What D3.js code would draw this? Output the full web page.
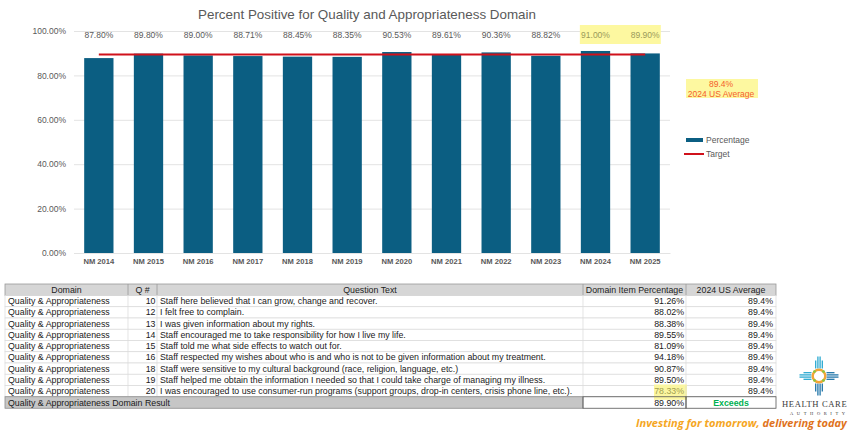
<!DOCTYPE html>
<html>
<head>
<meta charset="utf-8">
<script src="https://cdn.jsdelivr.net/npm/d3@7"></script>
<style>
  html, body { margin: 0; padding: 0; background: #ffffff; }
  svg { display: block; font-family: "Liberation Sans", Arial, sans-serif; }
</style>
</head>
<body>
<svg id="chart" width="849" height="432"></svg>
<script>
// ---------- DATA ----------
const years = ["NM 2014","NM 2015","NM 2016","NM 2017","NM 2018","NM 2019","NM 2020","NM 2021","NM 2022","NM 2023","NM 2024","NM 2025"];
const percentages = [87.80, 89.80, 89.00, 88.71, 88.45, 88.35, 90.53, 89.61, 90.36, 88.82, 91.00, 89.90];
const target = 89.4;
const yTicks = [0, 20, 40, 60, 80, 100];
const highlightedYears = ["NM 2024", "NM 2025"];

const tableHeaders = ["Domain", "Q #", "Question Text", "Domain Item Percentage", "2024 US Average"];
const domainNames = ["Quality & Appropriateness","Quality & Appropriateness","Quality & Appropriateness","Quality & Appropriateness","Quality & Appropriateness","Quality & Appropriateness","Quality & Appropriateness","Quality & Appropriateness","Quality & Appropriateness"];
const questionNums = [10, 12, 13, 14, 15, 16, 18, 19, 20];
const questionTexts = [
  "Staff here believed that I can grow, change and recover.",
  "I felt free to complain.",
  "I was given information about my rights.",
  "Staff encouraged me to take responsibility for how I live my life.",
  "Staff told me what side effects to watch out for.",
  "Staff respected my wishes about who is and who is not to be given information about my treatment.",
  "Staff were sensitive to my cultural background (race, religion, language, etc.)",
  "Staff helped me obtain the information I needed so that I could take charge of managing my illness.",
  "I was encouraged to use consumer-run programs (support groups, drop-in centers, crisis phone line, etc.)."
];
const itemPercentages = [91.26, 88.02, 88.38, 89.55, 81.09, 94.18, 90.87, 89.50, 78.33];
const usAverages = [89.4, 89.4, 89.4, 89.4, 89.4, 89.4, 89.4, 89.4, 89.4];
const highlightedItems = [20];
const resultLabel = "Quality & Appropriateness Domain Result";
const resultValue = 89.90;
const resultStatus = "Exceeds";

// ---------- CHART ----------
const svg = d3.select("#chart");
const grey = "#595959";
const barColor = "#0b5e82";
const redColor = "#d0111b";

const x = d3.scaleBand().domain(years).range([74, 670]).paddingInner(0.41).paddingOuter(0.205);
const y = d3.scaleLinear().domain([0, 100]).range([253, 31]);

// title
svg.append("text")
  .attr("x", 367).attr("y", 19)
  .attr("text-anchor", "middle")
  .attr("font-size", 13.4)
  .attr("fill", grey)
  .text("Percent Positive for Quality and Appropriateness Domain");

// gridlines + y axis
const yAxis = d3.axisLeft(y).tickValues(yTicks)
  .tickFormat(d => d3.format(".2f")(d) + "%")
  .tickSize(-(670 - 74)).tickPadding(8);
const gy = svg.append("g").attr("transform", "translate(74,0)").call(yAxis);
gy.select(".domain").remove();
gy.selectAll(".tick line").attr("stroke", "#e3e3e3").attr("stroke-width", 1);
gy.selectAll(".tick text").attr("fill", grey).attr("font-size", 8.5).attr("font-family", "Liberation Sans, Arial, sans-serif");

// value label highlight block
const hlBands = highlightedYears.map(v => x(v));
const hlX0 = d3.min(hlBands) - 1;
const hlX1 = d3.max(hlBands) + x.bandwidth() + 1;
svg.append("rect")
  .attr("x", hlX0).attr("y", 25)
  .attr("width", hlX1 - hlX0).attr("height", 19)
  .attr("fill", "#fdf8a0");

// bars
svg.append("g").selectAll("rect").data(years).join("rect")
  .attr("x", d => x(d))
  .attr("y", (d, i) => y(percentages[i]))
  .attr("width", x.bandwidth())
  .attr("height", (d, i) => y(0) - y(percentages[i]))
  .attr("fill", barColor);

// value labels
svg.append("g").selectAll("text").data(years).join("text")
  .attr("x", d => x(d) + x.bandwidth() / 2)
  .attr("y", 38)
  .attr("text-anchor", "middle")
  .attr("font-size", 8.5)
  .attr("fill", d => highlightedYears.includes(d) ? "#9a9a5a" : grey)
  .text((d, i) => d3.format(".2f")(percentages[i]) + "%");

// target line
svg.append("line")
  .attr("x1", x(years[0]) + x.bandwidth() / 2)
  .attr("x2", x(years[years.length - 1]) + x.bandwidth() / 2)
  .attr("y1", y(target)).attr("y2", y(target))
  .attr("stroke", redColor).attr("stroke-width", 2);

// x axis
const xAxis = d3.axisBottom(x).tickSize(0).tickPadding(6);
const gx = svg.append("g").attr("transform", "translate(0,253)").call(xAxis);
gx.select(".domain").attr("stroke", "#e3e3e3");
gx.selectAll(".tick text").attr("fill", grey).attr("font-size", 7.6).attr("font-weight", "bold")
  .attr("font-family", "Liberation Sans, Arial, sans-serif");

// US average annotation
svg.append("rect").attr("x", 686).attr("y", 79).attr("width", 72).attr("height", 19).attr("fill", "#fdf8a0");
svg.append("text").attr("x", 721).attr("y", 87).attr("text-anchor", "middle")
  .attr("font-size", 8.5).attr("fill", "#f4602a").text(target.toFixed(1) + "%");
svg.append("text").attr("x", 721).attr("y", 96.5).attr("text-anchor", "middle")
  .attr("font-size", 8.5).attr("fill", "#f4602a").text("2024 US Average");

// legend
const legend = svg.append("g");
legend.append("rect").attr("x", 686).attr("y", 138).attr("width", 17).attr("height", 4).attr("fill", barColor);
legend.append("text").attr("x", 706).attr("y", 143).attr("font-size", 8.5).attr("fill", grey).text("Percentage");
legend.append("rect").attr("x", 684).attr("y", 153).attr("width", 20).attr("height", 2).attr("fill", redColor);
legend.append("text").attr("x", 706).attr("y", 157).attr("font-size", 8.5).attr("fill", grey).text("Target");

// ---------- TABLE ----------
const colX = [5, 128, 157, 583, 686, 776];
const tableTop = 284, headH = 11.5, rowH = 11.25;
const tfs = 8.8;
const tbl = svg.append("g").attr("font-size", tfs).attr("fill", "#1a1a1a");

// header
tbl.append("rect").attr("x", colX[0]).attr("y", tableTop).attr("width", colX[5] - colX[0]).attr("height", headH)
  .attr("fill", "#d6d6d6").attr("stroke", "#9a9a9a").attr("stroke-width", 0.8);
tableHeaders.forEach((h, i) => {
  tbl.append("text").attr("x", (colX[i] + colX[i + 1]) / 2).attr("y", tableTop + 8.8)
    .attr("text-anchor", "middle").attr("fill", "#222").text(h);
  if (i > 0) tbl.append("line").attr("x1", colX[i]).attr("x2", colX[i]).attr("y1", tableTop).attr("y2", tableTop + headH)
    .attr("stroke", "#9a9a9a").attr("stroke-width", 0.8);
});

const rowsTop = tableTop + headH;
questionNums.forEach((q, r) => {
  const ry = rowsTop + r * rowH;
  tbl.append("rect").attr("x", colX[0]).attr("y", ry).attr("width", colX[5] - colX[0]).attr("height", rowH)
    .attr("fill", "#ffffff").attr("stroke", "#d9d9d9").attr("stroke-width", 0.7);
  if (highlightedItems.includes(q)) {
    tbl.append("rect").attr("x", 654).attr("y", ry - 1).attr("width", 33).attr("height", rowH + 4).attr("fill", "#fbf6a0");
  }
  for (let c = 1; c < 5; c++) {
    tbl.append("line").attr("x1", colX[c]).attr("x2", colX[c]).attr("y1", ry).attr("y2", ry + rowH)
      .attr("stroke", "#d9d9d9").attr("stroke-width", 0.7);
  }
  const by = ry + 8.7;
  tbl.append("text").attr("x", colX[0] + 3).attr("y", by).text(domainNames[r]);
  tbl.append("text").attr("x", colX[2] - 1.5).attr("y", by).attr("text-anchor", "end").text(q);
  tbl.append("text").attr("x", colX[2] + 3).attr("y", by).text(questionTexts[r]);
  tbl.append("text").attr("x", colX[4] - 2).attr("y", by).attr("text-anchor", "end")
    .attr("fill", highlightedItems.includes(q) ? "#a3a050" : "#1a1a1a")
    .text(itemPercentages[r].toFixed(2) + "%");
  tbl.append("text").attr("x", colX[5] - 3).attr("y", by).attr("text-anchor", "end").text(usAverages[r].toFixed(1) + "%");
});

// result row
const resY = rowsTop + questionNums.length * rowH;
tbl.append("rect").attr("x", colX[0]).attr("y", resY).attr("width", colX[3] - colX[0]).attr("height", 11.5)
  .attr("fill", "#c6c6c6").attr("stroke", "#8a8a8a").attr("stroke-width", 0.8);
tbl.append("rect").attr("x", colX[3]).attr("y", resY).attr("width", colX[4] - colX[3]).attr("height", 11.5)
  .attr("fill", "none").attr("stroke", "#555").attr("stroke-width", 0.8);
tbl.append("rect").attr("x", colX[4]).attr("y", resY).attr("width", colX[5] - colX[4]).attr("height", 11.5)
  .attr("fill", "none").attr("stroke", "#555").attr("stroke-width", 0.8);
tbl.append("text").attr("x", colX[0] + 3).attr("y", resY + 8.8).text(resultLabel);
tbl.append("text").attr("x", colX[4] - 2).attr("y", resY + 8.8).attr("text-anchor", "end").text(resultValue.toFixed(2) + "%");
tbl.append("text").attr("x", (colX[4] + colX[5]) / 2).attr("y", resY + 8.8).attr("text-anchor", "middle")
  .attr("fill", "#00b050").attr("font-weight", "bold").text(resultStatus);

// ---------- LOGO ----------
const logo = svg.append("g").attr("transform", "translate(819,376)");
const rayOff = [-3.3, -1.1, 1.1, 3.3];
const rayLen = [8, 12, 12, 8];
const r0 = 7.5;
[0, 90, 180, 270].forEach(a => {
  const g = logo.append("g").attr("transform", `rotate(${a})`);
  rayOff.forEach((o, i) => {
    g.append("line").attr("x1", o).attr("x2", o).attr("y1", -r0).attr("y2", -r0 - rayLen[i])
      .attr("stroke", a === 0 || a === 270 ? "#29a8d0" : "#1f74a8").attr("stroke-width", 1.3);
  });
});
logo.append("circle").attr("r", 6.3).attr("fill", "#ffffff").attr("stroke", "#f3a536").attr("stroke-width", 2.4);
[45, 135, 225, 315].forEach(a => {
  const rad = a * Math.PI / 180;
  logo.append("circle").attr("cx", 6.3 * Math.cos(rad)).attr("cy", 6.3 * Math.sin(rad)).attr("r", 1.4).attr("fill", "#8cc63f");
});
svg.append("text").attr("x", 782).attr("y", 406.5).attr("font-family", "Liberation Serif, serif")
  .attr("font-size", 8.6).attr("letter-spacing", 0.6).attr("fill", "#3a3a3a").text("HEALTH CARE");
svg.append("text").attr("x", 790).attr("y", 415).attr("font-family", "Liberation Serif, serif")
  .attr("font-size", 4.5).attr("letter-spacing", 3.6).attr("fill", "#3a3a3a").text("AUTHORITY");

const tag = svg.append("text").attr("x", 636).attr("y", 427)
  .attr("font-family", "Open Sans, sans-serif").attr("font-style", "italic").attr("font-weight", "bold")
  .attr("font-size", 11);
tag.append("tspan").attr("fill", "#f5a623").text("Investing for tomorrow, ");
tag.append("tspan").attr("fill", "#e0731c").text("delivering today");
const tw = tag.node().getComputedTextLength();
tag.attr("font-size", 11 * 211 / tw);
</script>
</body>
</html>
